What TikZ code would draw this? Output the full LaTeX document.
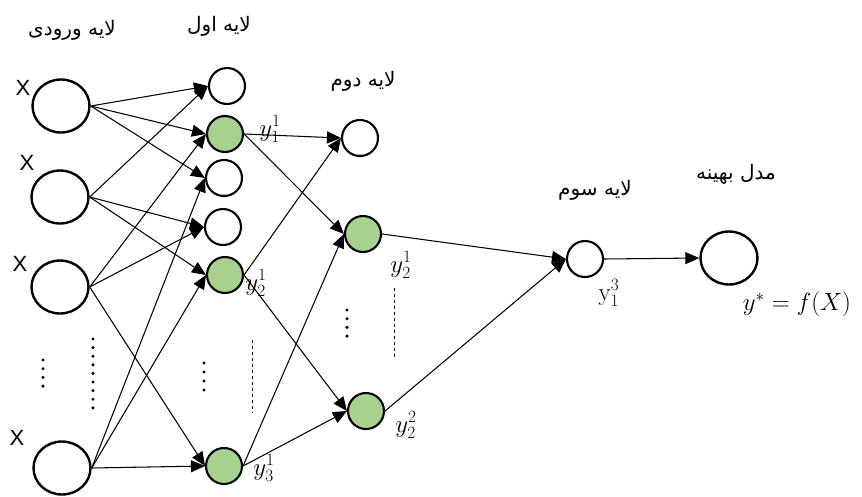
\documentclass[tikz,border=0pt]{standalone}
\usepackage[no-math]{fontspec}
\setmainfont{Liberation Sans}
\newfontfamily\arabicfont[Script=Arabic]{DejaVu Sans}
\TeXXeTstate=1
\usetikzlibrary{arrows.meta,shapes.geometric}
\definecolor{nodegreen}{HTML}{A9D18E}
\begin{document}
\begin{tikzpicture}[x=1pt,y=-1pt,
  big/.style={draw,ellipse,line width=2.4pt,minimum width=57pt,minimum height=53pt,inner sep=0pt},
  small/.style={draw,circle,line width=2.1pt,minimum size=36pt,inner sep=0pt},
  green/.style={small,fill=nodegreen},
  conn/.style={line width=1.05pt,-{Triangle[length=14pt,width=12pt]}},
  xlab/.style={font=\fontsize{22}{26}\selectfont,inner sep=0pt},
  fa/.style={font=\arabicfont\fontsize{20}{24}\selectfont,inner sep=0pt},
  mlab/.style={font=\fontsize{25}{29}\selectfont,inner sep=0pt},
  dotfill/.style={fill=black},
  thindash/.style={line width=0.6pt,dash pattern=on 3pt off 3pt}]
\useasboundingbox (0,0) rectangle (862,496);
% input layer
\node[big] (I1) at (61,106) {};
\node[big] (I2) at (60,197) {};
\node[big] (I3) at (60,287) {};
\node[big] (I4) at (62,468) {};
% first layer
\node[small] (L1a) at (227,86) {};
\node[green] (L1b) at (225,134) {};
\node[small] (L1c) at (224,178) {};
\node[small] (L1d) at (223,227) {};
\node[green] (L1e) at (225,275) {};
\node[green] (L1f) at (224,466) {};
% second layer
\node[small] (L2a) at (360,138) {};
\node[green] (L2b) at (363,234) {};
\node[green] (L2c) at (366,411) {};
% third layer
\node[small] (L3) at (585,259) {};
% output
\node[big] (Out) at (729,258) {};
% labels
\node[xlab] (x1) at (23,88) {X};
\node[xlab] (x2) at (27,163) {X};
\node[xlab] (x3) at (20,264) {X};
\node[xlab] (x4) at (17,438) {X};
\node[fa] (t0) at (72,30) {\beginR لایه ورودی\endR};
\node[fa] (t1) at (219,26) {\beginR لایه اول\endR};
\node[fa] (t2) at (363,81) {\beginR لایه دوم\endR};
\node[fa] (t3) at (595,190) {\beginR لایه سوم\endR};
\node[fa] (t4) at (736,174) {\beginR مدل بهینه\endR};
\node[mlab] (m11) at (270,129) {$y_1^1$};
\node[mlab] (m21) at (256,283) {$y_2^1$};
\node[mlab] (m31) at (264,468) {$y_3^1$};
\node[mlab] (n21) at (401,265) {$y_2^1$};
\node[mlab] (n22) at (406,425) {$y_2^2$};
\node[mlab] (p13) at (609,293) {$\mathrm{y}_1^3$};
\node[mlab] (res) at (797,304) {$y^*=f(X)$};
% connectors input -> layer 1
\draw[conn] (I1.east) -- (L1a.west);
\draw[conn] (I1.east) -- (L1b.west);
\draw[conn] (I1.east) -- (L1c.west);
\draw[conn] (I2.east) -- (L1a.west);
\draw[conn] (I2.east) -- (L1d.west);
\draw[conn] (I2.east) -- (L1e.west);
\draw[conn] (I3.east) -- (L1b.west);
\draw[conn] (I3.east) -- (L1d.west);
\draw[conn] (I3.east) -- (L1f.west);
\draw[conn] (I4.east) -- (L1c.west);
\draw[conn] (I4.east) -- (L1e.west);
\draw[conn] (I4.east) -- (L1f.west);
% layer 1 -> layer 2
\draw[conn] (L1b.east) -- (L2a.west);
\draw[conn] (L1b.east) -- (L2b.west);
\draw[conn] (L1e.east) -- (L2a.west);
\draw[conn] (L1e.east) -- (L2c.west);
\draw[conn] (L1f.east) -- (L2b.west);
\draw[conn] (L1f.east) -- (L2c.west);
% layer 2 -> layer 3 -> output
\draw[conn] (L2b.east) -- (L3.west);
\draw[conn] (L2c.east) -- (L3.west);
\draw[conn] (L3.east) -- (Out.west);
% dots
\foreach \y in {339,347.6,...,409} \fill[dotfill] (93,\y) circle (1.7);
\foreach \y in {360,368.7,...,388} \fill[dotfill] (43,\y) circle (1.7);
\foreach \y in {363,372,...,391} \fill[dotfill] (204,\y) circle (1.7);
\foreach \y in {310,318.7,...,338} \fill[dotfill] (347,\y) circle (1.7);
\draw[thindash] (252,340) -- (252,413);
\draw[thindash] (394,288) -- (394,358);
\end{tikzpicture}
\end{document}
